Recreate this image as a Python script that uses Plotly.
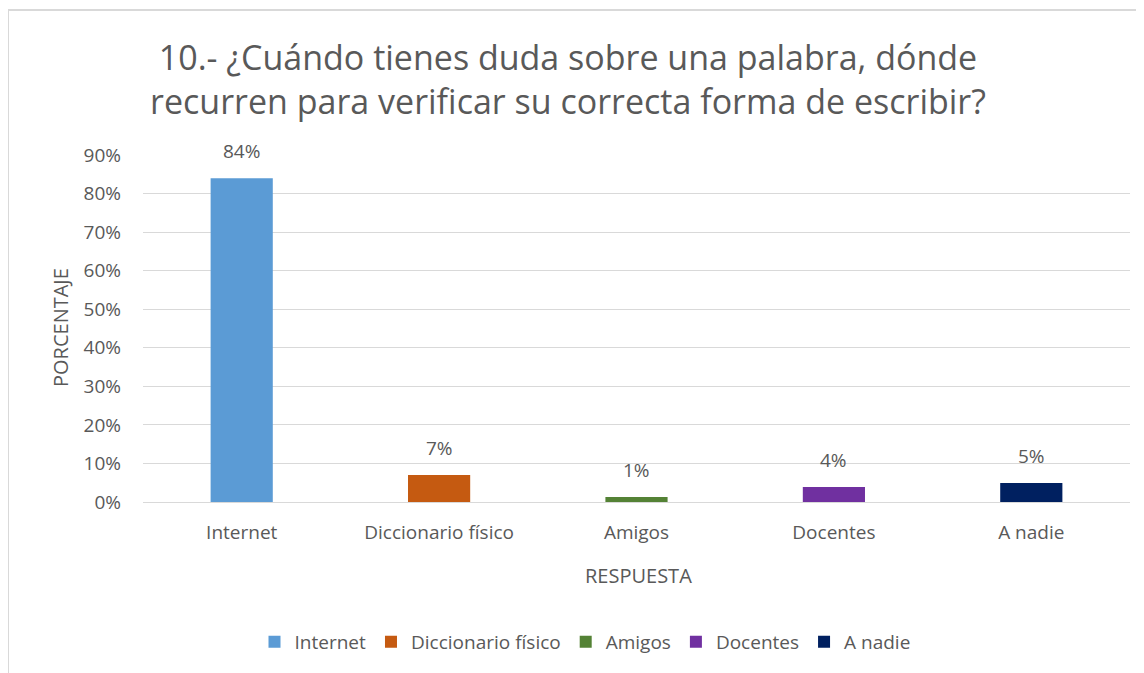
import plotly.graph_objects as go

categories = ["Internet", "Diccionario físico", "Amigos", "Docentes", "A nadie"]
values = [0.84, 0.07, 0.013, 0.039, 0.049]
labels = ["84%", "7%", "1%", "4%", "5%"]
colors = ["#5B9BD5", "#C55A11", "#548235", "#7030A0", "#002060"]
yticks = [0, 0.1, 0.2, 0.3, 0.4, 0.5, 0.6, 0.7, 0.8, 0.9]
ytick_text = ["0%", "10%", "20%", "30%", "40%", "50%", "60%", "70%", "80%", "90%"]

FONT = "Open Sans, sans-serif"
GRAY = "#595959"
FS = 19

# page has an 8px body margin; figure coords = screen coords - 8
OFF = 8
W, H = 1136, 665
L = 143 - OFF
R = W - (1130 - OFF)
T = 155 - OFF
B = H - (502 - OFF)
pw, ph = W - L - R, H - T - B

def px_x(x):
    return (x - OFF - L) / pw

def px_y(y):
    return (H - B - (y - OFF)) / ph

fig = go.Figure()
for c, v, col in zip(categories, values, colors):
    fig.add_trace(go.Bar(
        x=[c], y=[v], name=c, marker=dict(color=col, line=dict(width=0)),
        width=0.315,
    ))

annotations = [
    dict(x=c, y=v, text=t, xref="x", yref="y", showarrow=False,
         xanchor="center", yanchor="bottom", yshift=12,
         font=dict(size=FS, color=GRAY, family=FONT))
    for c, v, t in zip(categories, values, labels)
]
annotations += [
    dict(text="PORCENTAJE", x=px_x(60), y=px_y(328), xref="paper", yref="paper",
         xanchor="center", yanchor="middle",
         textangle=-90, showarrow=False, font=dict(size=20, color=GRAY, family=FONT)),
    dict(text="RESPUESTA", x=px_x(638), y=px_y(575), xref="paper", yref="paper",
         xanchor="center", yanchor="middle",
         showarrow=False, font=dict(size=20, color=GRAY, family=FONT)),
]

fig.update_layout(
    width=W, height=H,
    margin=dict(l=L, r=R, t=T, b=B, autoexpand=False),
    paper_bgcolor="white", plot_bgcolor="white",
    barmode="overlay",
    font=dict(family=FONT, color=GRAY, size=FS),
    title=dict(
        text="10.- ¿Cuándo tienes duda sobre una palabra, dónde<br>recurren para verificar su correcta forma de escribir?",
        x=(568 - OFF) / W, xanchor="center", xref="container",
        y=1 - (70 - OFF) / H, yanchor="middle", yref="container",
        font=dict(size=34, color=GRAY, family=FONT),
    ),
    yaxis=dict(
        range=[0, 0.9], tickvals=yticks, ticktext=ytick_text,
        showgrid=True, gridcolor="#D9D9D9", gridwidth=1,
        zeroline=False, showline=False, ticks="", automargin=False,
        tickfont=dict(size=FS, color=GRAY, family=FONT),
        ticklabelstandoff=21,
    ),
    xaxis=dict(
        showline=True, linecolor="#D9D9D9", linewidth=1, ticks="",
        automargin=False, tickangle=0,
        tickfont=dict(size=FS, color=GRAY, family=FONT),
        ticklabelstandoff=13,
    ),
    legend=dict(
        orientation="h", xref="container", x=(585 - OFF) / W, xanchor="center",
        yref="container", y=1 - (642 - OFF) / H, yanchor="middle",
        font=dict(size=FS, color=GRAY, family=FONT),
        traceorder="normal", itemwidth=30,
    ),
    showlegend=True,
    annotations=annotations,
    shapes=[
        dict(type="line", xref="paper", yref="paper", x0=px_x(8), x1=px_x(8),
             y0=px_y(10), y1=px_y(H + OFF), line=dict(color="#D9D9D9", width=2)),
        dict(type="line", xref="paper", yref="paper", x0=px_x(8), x1=px_x(W + OFF),
             y0=px_y(10), y1=px_y(10), line=dict(color="#D9D9D9", width=2)),
    ],
)

fig.write_html("out.html")
